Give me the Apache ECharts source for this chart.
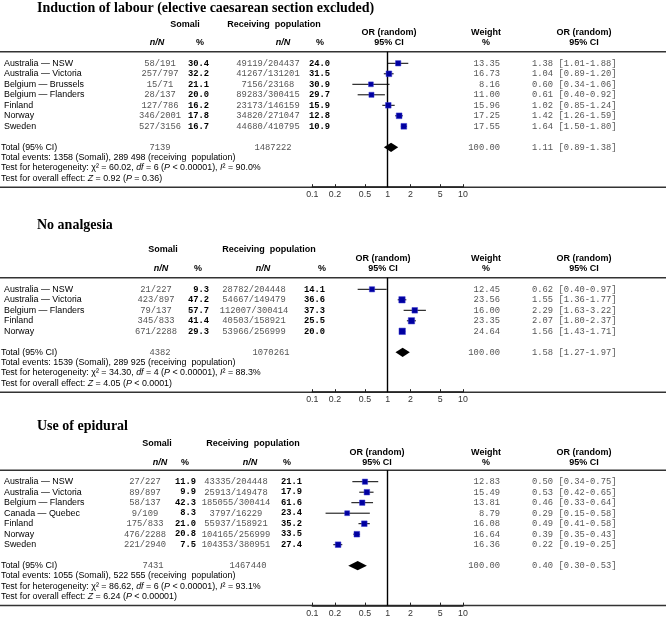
<!DOCTYPE html>
<html><head><meta charset="utf-8">
<script src="https://cdn.jsdelivr.net/npm/echarts@6/dist/echarts.min.js"></script>
<style>html,body{margin:0;padding:0;background:#fff}#c{width:666px;height:618px}</style>
</head><body><div id="c"></div>
<script>
// ---------------- DATA ----------------
const panelTitles = ['Induction of labour (elective caesarean section excluded)', 'No analgesia', 'Use of epidural'];

const labourStudies = ['Australia — NSW', 'Australia — Victoria', 'Belgium — Brussels', 'Belgium — Flanders', 'Finland', 'Norway', 'Sweden'];
const labourSomaliNN = ['58/191', '257/797', '15/71', '28/137', '127/786', '346/2001', '527/3156'];
const labourSomaliPct = ['30.4', '32.2', '21.1', '20.0', '16.2', '17.8', '16.7'];
const labourRecNN = ['49119/204437', '41267/131201', '7156/23168', '89283/300415', '23173/146159', '34820/271047', '44680/410795'];
const labourRecPct = ['24.0', '31.5', '30.9', '29.7', '15.9', '12.8', '10.9'];
const labourWeight = [13.35, 16.73, 8.16, 11.00, 15.96, 17.25, 17.55];
const labourOR = [1.38, 1.04, 0.60, 0.61, 1.02, 1.42, 1.64];
const labourLo = [1.01, 0.89, 0.34, 0.40, 0.85, 1.26, 1.50];
const labourHi = [1.88, 1.20, 1.06, 0.92, 1.24, 1.59, 1.80];

const analgStudies = ['Australia — NSW', 'Australia — Victoria', 'Belgium — Flanders', 'Finland', 'Norway'];
const analgSomaliNN = ['21/227', '423/897', '79/137', '345/833', '671/2288'];
const analgSomaliPct = ['9.3', '47.2', '57.7', '41.4', '29.3'];
const analgRecNN = ['28782/204448', '54667/149479', '112007/300414', '40503/158921', '53966/256999'];
const analgRecPct = ['14.1', '36.6', '37.3', '25.5', '20.0'];
const analgWeight = [12.45, 23.56, 16.00, 23.35, 24.64];
const analgOR = [0.62, 1.55, 2.29, 2.07, 1.56];
const analgLo = [0.40, 1.36, 1.63, 1.80, 1.43];
const analgHi = [0.97, 1.77, 3.22, 2.37, 1.71];

const epiStudies = ['Australia — NSW', 'Australia — Victoria', 'Belgium — Flanders', 'Canada — Quebec', 'Finland', 'Norway', 'Sweden'];
const epiSomaliNN = ['27/227', '89/897', '58/137', '9/109', '175/833', '476/2288', '221/2940'];
const epiSomaliPct = ['11.9', '9.9', '42.3', '8.3', '21.0', '20.8', '7.5'];
const epiRecNN = ['43335/204448', '25913/149478', '185055/300414', '3797/16229', '55937/158921', '104165/256999', '104353/380951'];
const epiRecPct = ['21.1', '17.9', '61.6', '23.4', '35.2', '33.5', '27.4'];
const epiWeight = [12.83, 15.49, 13.81, 8.79, 16.08, 16.64, 16.36];
const epiOR = [0.50, 0.53, 0.46, 0.29, 0.49, 0.39, 0.22];
const epiLo = [0.34, 0.42, 0.33, 0.15, 0.41, 0.35, 0.19];
const epiHi = [0.75, 0.65, 0.64, 0.58, 0.58, 0.43, 0.25];

const totalSomaliN = ['7139', '4382', '7431'];
const totalRecN = ['1487222', '1070261', '1467440'];
const totalWeight = [100.00, 100.00, 100.00];
const totalOR = [1.11, 1.58, 0.40];
const totalLo = [0.89, 1.27, 0.30];
const totalHi = [1.38, 1.97, 0.53];
const totalEvents = ['Total events: 1358 (Somali), 289 498 (receiving  population)',
                     'Total events: 1539 (Somali), 289 925 (receiving  population)',
                     'Total events: 1055 (Somali), 522 555 (receiving  population)'];
const hetChi2 = ['60.02', '34.30', '86.62'];
const hetDf = ['6', '4', '6'];
const hetP = ['< 0.00001', '< 0.00001', '< 0.00001'];
const hetI2 = ['90.0%', '88.3%', '93.1%'];
const overallZ = ['0.92', '4.05', '6.24'];
const overallP = ['= 0.36', '< 0.0001', '< 0.00001'];

const tickValues = [0.1, 0.2, 0.5, 1, 2, 5, 10];
const tickLabels = ['0.1', '0.2', '0.5', '1', '2', '5', '10'];

// ---------------- LAYOUT ----------------
const SANS = '"Liberation Sans", Arial, Helvetica, sans-serif';
const MONO = '"Liberation Mono", "DejaVu Sans Mono", monospace';
const SERIF = '"Liberation Serif", "Times New Roman", serif';
const ROWH = 10.5;
const layouts = [
  {row0: 63.3, titleY: 8.5, h1Y: 25, h2Y: 43, orY1: 33, sNNc: 160, sPctR: 209, rNNc: 268, rPctR: 330, totSc: 160, totRc: 273,
   somC: 185, recC: 274, nnC: 157, pctC: 200, rnnC: 283, rpctC: 320, orHC: 389},
  {row0: 289.3, titleY: 225, h1Y: 249.3, h2Y: 268.3, orY1: 258.3, sNNc: 156, sPctR: 209, rNNc: 254, rPctR: 325, totSc: 160, totRc: 271,
   somC: 163, recC: 269, nnC: 161, pctC: 198, rnnC: 263, rpctC: 322, orHC: 383},
  {row0: 481.7, titleY: 426, h1Y: 443.3, h2Y: 462.5, orY1: 452.3, sNNc: 145, sPctR: 196, rNNc: 236, rPctR: 302, totSc: 153, totRc: 248,
   somC: 157, recC: 253, nnC: 160, pctC: 185, rnnC: 250, rpctC: 287, orHC: 377}
];
const AX_LEFT = 312.3, AX_W = 150.7;

const panels = [
  {studies: labourStudies, sNN: labourSomaliNN, sPct: labourSomaliPct, rNN: labourRecNN, rPct: labourRecPct, w: labourWeight, or: labourOR, lo: labourLo, hi: labourHi},
  {studies: analgStudies, sNN: analgSomaliNN, sPct: analgSomaliPct, rNN: analgRecNN, rPct: analgRecPct, w: analgWeight, or: analgOR, lo: analgLo, hi: analgHi},
  {studies: epiStudies, sNN: epiSomaliNN, sPct: epiSomaliPct, rNN: epiRecNN, rPct: epiRecPct, w: epiWeight, or: epiOR, lo: epiLo, hi: epiHi}
];

const lg = v => Math.log10(v);
const tickLogs = tickValues.map(lg);
const fmtOR = (o, l, h) => o.toFixed(2) + ' [' + l.toFixed(2) + '-' + h.toFixed(2) + ']';

function txt(x, y, text, o) {
  return {type: 'text', x: x, y: y, silent: true,
    style: Object.assign({text: text, fill: '#000', fontSize: 8.8, fontFamily: SANS, align: 'left', verticalAlign: 'middle'}, o || {})};
}
const monoGrey = (align) => ({fontFamily: MONO, fill: '#555', fontSize: 8.8, align: align});
const monoBold = {fontFamily: MONO, fill: '#000', fontSize: 8.8, fontWeight: 'bold', align: 'right'};

const grids = [], xAxes = [], yAxes = [], series = [], graphics = [];

panels.forEach((P, pi) => {
  const L = layouts[pi];
  const n = P.studies.length;
  const top = L.row0 - 1.1 * ROWH;
  const height = (n + 5.9) * ROWH;
  grids.push({left: AX_LEFT, width: AX_W, top: top, height: height});
  xAxes.push({
    type: 'value', gridIndex: pi, min: -1, max: 1,
    splitLine: {show: false},
    axisLine: {show: true, onZero: false, lineStyle: {color: '#222', width: 1.5}},
    axisTick: {show: true, inside: true, length: 3, customValues: tickLogs, lineStyle: {color: '#222', width: 1}},
    axisLabel: {show: true, customValues: tickLogs, margin: 3, fontSize: 8.8, fontFamily: SANS, color: '#333',
      formatter: v => { const i = tickLogs.findIndex(t => Math.abs(t - v) < 1e-6); return i >= 0 ? tickLabels[i] : ''; }}
  });
  yAxes.push({type: 'value', gridIndex: pi, inverse: true, min: -1.1, max: n + 4.8, show: false});

  // forest marks
  const rows = [];
  for (let i = 0; i < n; i++) rows.push([lg(P.or[i]), i, lg(P.lo[i]), lg(P.hi[i]), P.w[i], 0]);
  rows.push([lg(totalOR[pi]), n + 1, lg(totalLo[pi]), lg(totalHi[pi]), totalWeight[pi], 1]);
  series.push({
    type: 'custom', xAxisIndex: pi, yAxisIndex: pi, clip: false, silent: true,
    data: rows,
    encode: {x: 0, y: 1},
    renderItem: (params, api) => {
      const c = api.coord([api.value(0), api.value(1)]);
      const pl = api.coord([api.value(2), api.value(1)]);
      const ph = api.coord([api.value(3), api.value(1)]);
      if (api.value(5) === 1) {
        const hh = 4.6;
        return {type: 'polygon', shape: {points: [[pl[0], c[1]], [c[0], c[1] - hh], [ph[0], c[1]], [c[0], c[1] + hh]]},
          style: {fill: '#000'}};
      }
      const s = 4 + api.value(4) * 0.1;
      return {type: 'group', children: [
        {type: 'line', shape: {x1: pl[0], y1: c[1], x2: ph[0], y2: c[1]}, style: {stroke: '#000', lineWidth: 1}},
        {type: 'rect', shape: {x: c[0] - s / 2, y: c[1] - s / 2, width: s, height: s}, style: {fill: '#0000a0', stroke: '#3a3ad0', lineWidth: 0.5}}
      ]};
    },
    markLine: {silent: true, symbol: 'none', label: {show: false}, animation: false,
      lineStyle: {color: '#000', width: 1.4, type: 'solid'}, data: [{xAxis: 0}]},
    z: 5
  });

  // table text
  const trows = [];
  for (let i = 0; i < n; i++) trows.push([0, i, i]);
  trows.push([0, n + 1, -1]);
  trows.push([0, n + 2, -2]);
  trows.push([0, n + 3, -3]);
  trows.push([0, n + 4, -4]);
  series.push({
    type: 'custom', xAxisIndex: pi, yAxisIndex: pi, clip: false, silent: true,
    data: trows, encode: {x: 0, y: 1},
    renderItem: (params, api) => {
      const y = api.coord([0, api.value(1)])[1];
      const k = api.value(2);
      if (k >= 0) {
        return {type: 'group', children: [
          txt(4, y, P.studies[k], {fontSize: 8.9}),
          txt(L.sNNc, y, P.sNN[k], monoGrey('center')),
          txt(L.sPctR, y, P.sPct[k], monoBold),
          txt(L.rNNc, y, P.rNN[k], monoGrey('center')),
          txt(L.rPctR, y, P.rPct[k], monoBold),
          txt(500, y, P.w[k].toFixed(2), monoGrey('right')),
          txt(532, y, fmtOR(P.or[k], P.lo[k], P.hi[k]), monoGrey('left'))
        ]};
      }
      if (k === -1) {
        return {type: 'group', children: [
          txt(1, y, 'Total (95% CI)', {fontSize: 8.9}),
          txt(L.totSc, y, totalSomaliN[pi], monoGrey('center')),
          txt(L.totRc, y, totalRecN[pi], monoGrey('center')),
          txt(500, y, totalWeight[pi].toFixed(2), monoGrey('right')),
          txt(532, y, fmtOR(totalOR[pi], totalLo[pi], totalHi[pi]), monoGrey('left'))
        ]};
      }
      const yy = y - 0.05 * ROWH;
      if (k === -2) return txt(1, yy, totalEvents[pi], {fontSize: 8.9});
      const rich = {n: {fontSize: 8.9, fontFamily: SANS, fill: '#000'}, i: {fontSize: 8.9, fontFamily: SANS, fontStyle: 'italic', fill: '#000'}};
      if (k === -3) {
        return txt(1, yy, '{n|Test for heterogeneity: χ² = ' + hetChi2[pi] + ', }{i|df}{n| = ' + hetDf[pi] + ' (}{i|P}{n| ' + hetP[pi] + '), }{i|I}{n|² = ' + hetI2[pi] + '}', {rich: rich});
      }
      return txt(1, yy, '{n|Test for overall effect: }{i|Z}{n| = ' + overallZ[pi] + ' (}{i|P}{n| ' + overallP[pi] + ')}', {rich: rich});
    },
    z: 4
  });

  // titles, headers, separator lines
  const bottom = top + height;
  graphics.push(
    {type: 'line', shape: {x1: 0, y1: top, x2: 666, y2: top}, style: {stroke: '#333', lineWidth: 1.5}, silent: true},
    {type: 'line', shape: {x1: 0, y1: bottom, x2: 666, y2: bottom}, style: {stroke: '#333', lineWidth: 1.5}, silent: true},
    txt(37, L.titleY, panelTitles[pi], {fontFamily: SERIF, fontWeight: 'bold', fontSize: 14}),
    txt(L.somC, L.h1Y, 'Somali', {fontWeight: 'bold', fontSize: 9, align: 'center'}),
    txt(L.recC, L.h1Y, 'Receiving  population', {fontWeight: 'bold', fontSize: 9, align: 'center'}),
    txt(L.nnC, L.h2Y, 'n/N', {fontWeight: 'bold', fontStyle: 'italic', fontSize: 9, align: 'center'}),
    txt(L.pctC, L.h2Y, '%', {fontWeight: 'bold', fontSize: 9, align: 'center'}),
    txt(L.rnnC, L.h2Y, 'n/N', {fontWeight: 'bold', fontStyle: 'italic', fontSize: 9, align: 'center'}),
    txt(L.rpctC, L.h2Y, '%', {fontWeight: 'bold', fontSize: 9, align: 'center'}),
    txt(L.orHC, L.orY1, 'OR (random)', {fontWeight: 'bold', fontSize: 9, align: 'center'}),
    txt(L.orHC, L.h2Y, '95% CI', {fontWeight: 'bold', fontSize: 9, align: 'center'}),
    txt(486, L.orY1, 'Weight', {fontWeight: 'bold', fontSize: 9, align: 'center'}),
    txt(486, L.h2Y, '%', {fontWeight: 'bold', fontSize: 9, align: 'center'}),
    txt(584, L.orY1, 'OR (random)', {fontWeight: 'bold', fontSize: 9, align: 'center'}),
    txt(584, L.h2Y, '95% CI', {fontWeight: 'bold', fontSize: 9, align: 'center'})
  );
});

const chart = echarts.init(document.getElementById('c'), null, {renderer: 'canvas'});
chart.setOption({
  animation: false,
  backgroundColor: '#fff',
  grid: grids, xAxis: xAxes, yAxis: yAxes, series: series,
  graphic: graphics
});
</script>
</body></html>
